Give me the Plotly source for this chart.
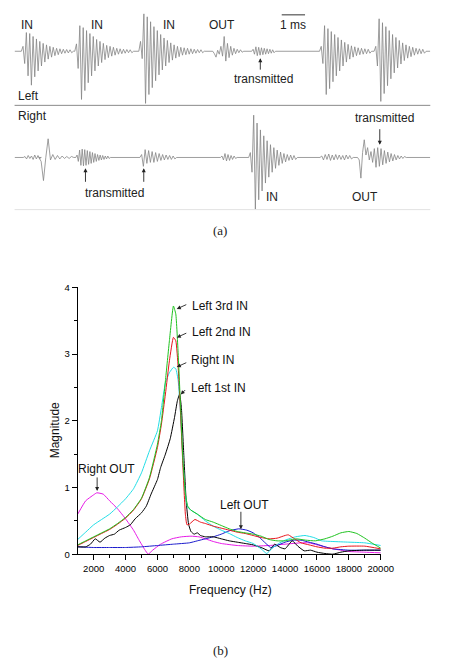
import plotly.graph_objects as go

W, H = 453, 672

# ================= panel (b): spectra (Frequency Hz, Magnitude) =================
freq_left3 = [1000, 1500, 2000, 2500, 3000, 3500, 4000, 4500, 5000, 5500, 6000, 6250, 6500, 6750, 7000, 7150, 7300, 7450, 7600, 7750, 7900, 8100, 8500, 9000, 9500, 10000, 10500, 11000, 11500, 12000, 12500, 13000, 13500, 14000, 14700, 15300, 15900, 16500, 17000, 17500, 18000, 18500, 19000, 19500, 20000]
mag_left3 = [0.14, 0.2, 0.26, 0.32, 0.38, 0.46, 0.55, 0.67, 0.84, 1.15, 1.65, 2.0, 2.6, 3.2, 3.72, 3.6, 3.0, 2.2, 1.4, 0.9, 0.72, 0.66, 0.6, 0.52, 0.48, 0.43, 0.38, 0.34, 0.32, 0.3, 0.27, 0.22, 0.2, 0.2, 0.23, 0.21, 0.2, 0.23, 0.27, 0.32, 0.34, 0.31, 0.24, 0.16, 0.09]

freq_left2 = [1000, 1500, 2000, 2500, 3000, 3500, 4000, 4500, 5000, 5500, 6000, 6250, 6500, 6750, 7000, 7150, 7300, 7450, 7600, 7750, 7850, 8000, 8350, 8700, 9000, 9500, 10000, 10500, 11000, 11500, 12000, 12500, 13000, 13500, 14000, 14200, 14600, 15000, 15500, 16000, 16500, 17000, 17500, 18000, 19000, 20000]
mag_left2 = [0.13, 0.19, 0.25, 0.31, 0.37, 0.45, 0.54, 0.66, 0.83, 1.13, 1.6, 1.95, 2.4, 2.9, 3.25, 3.2, 2.8, 2.1, 1.3, 0.6, 0.44, 0.45, 0.52, 0.48, 0.46, 0.42, 0.39, 0.36, 0.33, 0.31, 0.28, 0.25, 0.23, 0.24, 0.28, 0.29, 0.23, 0.17, 0.14, 0.11, 0.09, 0.09, 0.11, 0.12, 0.12, 0.08]

freq_right_in = [1000, 1500, 2000, 2500, 3000, 3500, 4000, 4500, 5000, 5500, 6000, 6250, 6500, 6750, 7000, 7150, 7300, 7450, 7600, 7750, 7900, 8100, 8500, 9000, 9500, 10000, 10500, 11000, 11500, 12000, 12500, 12850, 13200, 13600, 14000, 14650, 15250, 15800, 16300, 17000, 18000, 19000, 20000]
mag_right_in = [0.22, 0.33, 0.44, 0.52, 0.6, 0.71, 0.83, 0.98, 1.22, 1.55, 1.85, 2.2, 2.57, 2.72, 2.8, 2.78, 2.6, 2.1, 1.4, 0.9, 0.7, 0.66, 0.6, 0.5, 0.42, 0.36, 0.31, 0.25, 0.2, 0.16, 0.08, 0.01, 0.09, 0.16, 0.21, 0.26, 0.28, 0.25, 0.2, 0.19, 0.18, 0.17, 0.13]

freq_left1 = [1000, 1500, 1800, 2100, 2400, 2700, 3000, 3300, 3600, 4000, 4300, 4600, 5000, 5300, 5600, 6000, 6200, 6500, 6800, 7070, 7250, 7390, 7500, 7650, 7800, 7950, 8100, 8300, 8500, 8700, 9000, 9500, 10000, 10500, 11000, 11500, 12000, 12600, 13000, 13350, 13700, 14000, 14450, 14800, 15200, 15600, 16000, 16500, 17000, 17500, 18000, 19000, 20000]
mag_left1 = [0.11, 0.11, 0.15, 0.23, 0.18, 0.24, 0.28, 0.3, 0.36, 0.4, 0.44, 0.53, 0.62, 0.72, 0.9, 1.12, 1.3, 1.5, 1.73, 2.05, 2.3, 2.4, 2.2, 1.5, 0.8, 0.45, 0.34, 0.3, 0.32, 0.28, 0.26, 0.26, 0.23, 0.2, 0.18, 0.16, 0.14, 0.09, 0.05, 0.15, 0.1, 0.08, 0.2, 0.12, 0.05, 0.06, 0.03, 0.01, 0.0, 0.03, 0.05, 0.06, 0.06]

freq_left_out = [1000, 2000, 3000, 4000, 5000, 6000, 7000, 8000, 8500, 9000, 9500, 10000, 10500, 11100, 11600, 12000, 12400, 12800, 13100, 13500, 14000, 14500, 15000, 15500, 16000, 16500, 17000, 18000, 19000, 20000]
mag_left_out = [0.11, 0.1, 0.1, 0.1, 0.11, 0.13, 0.15, 0.17, 0.2, 0.23, 0.26, 0.3, 0.35, 0.38, 0.36, 0.32, 0.25, 0.16, 0.1, 0.13, 0.18, 0.21, 0.21, 0.18, 0.15, 0.11, 0.08, 0.06, 0.06, 0.06]

freq_right_out = [1000, 1500, 2000, 2200, 2600, 3000, 3500, 4000, 4500, 4850, 5200, 5420, 5700, 6200, 6900, 7500, 8100, 8600, 9000, 9500, 10000, 11000, 12000, 13000, 14000, 15000, 15500, 16000, 16500, 17000, 17500, 18000, 19000, 20000]
mag_right_out = [0.6, 0.8, 0.89, 0.92, 0.9, 0.8, 0.68, 0.53, 0.36, 0.21, 0.07, 0.0, 0.06, 0.15, 0.23, 0.26, 0.27, 0.26, 0.23, 0.19, 0.16, 0.13, 0.12, 0.13, 0.15, 0.17, 0.17, 0.14, 0.11, 0.08, 0.06, 0.04, 0.03, 0.02]

x_tick_vals = [2000, 4000, 6000, 8000, 10000, 12000, 14000, 16000, 18000, 20000]
x_tick_text = ["2000", "4000", "6000", "8000", "10000", "12000", "14000", "16000", "18000", "20000"]
y_tick_vals = [0, 1, 2, 3, 4]
y_tick_text = ["0", "1", "2", "3", "4"]

# ================= panel (a): waveforms (time ms, relative amplitude) =================
# each burst: onset (ms), half period (ms), successive extreme values
left_onsets = [0.29, 2.583, 5.33, 8.5, 10.17, 13.08, 15.42]
left_halfperiods = [0.072, 0.072, 0.072, 0.07, 0.06, 0.072, 0.072]
left_in1 = [0.1, -0.25, 0.38, -0.5, 0.36, -0.69, 0.3, -0.52, 0.25, -0.4, 0.2, -0.3, 0.16, -0.22, 0.13, -0.16, 0.1, -0.12, 0.08, -0.09, 0.06, -0.07, 0.05, -0.05, 0.04, -0.04, 0.035, -0.035, 0.03, -0.03]
left_in2 = [0.15, -0.35, 0.52, -0.98, 0.48, -0.8, 0.42, -0.64, 0.36, -0.5, 0.3, -0.4, 0.24, -0.3, 0.2, -0.23, 0.16, -0.17, 0.12, -0.13, 0.1, -0.1, 0.08, -0.08, 0.06, -0.06, 0.05, -0.05, 0.04, -0.04, 0.035, -0.03, 0.03, -0.03]
left_in3 = [0.2, -0.15, 0.76, -1.06, 0.7, -0.88, 0.6, -0.74, 0.5, -0.6, 0.42, -0.48, 0.34, -0.38, 0.27, -0.3, 0.22, -0.23, 0.17, -0.18, 0.13, -0.14, 0.1, -0.11, 0.08, -0.08, 0.07, -0.07, 0.06, -0.06, 0.05, -0.05, 0.04, -0.04, 0.035, -0.03, 0.03, -0.03]
left_out = [-0.05, -0.12, 0.02, -0.06, 0.1, -0.1, 0.3, -0.2, 0.16, -0.13, 0.1, -0.08, 0.06, -0.05, 0.04, -0.03, 0.03, -0.02]
left_transmitted = [0.04, -0.06, 0.09, -0.09, 0.08, -0.08, 0.07, -0.07, 0.06, -0.06, 0.05, -0.05, 0.04, -0.04, 0.03, -0.03]
left_in4 = [0.1, -0.25, 0.52, -0.88, 0.46, -0.76, 0.4, -0.62, 0.34, -0.5, 0.28, -0.4, 0.23, -0.3, 0.18, -0.22, 0.14, -0.16, 0.11, -0.12, 0.09, -0.09, 0.07, -0.07, 0.06, -0.06, 0.05, -0.05, 0.04, -0.04]
left_in5 = [0.1, -0.3, 0.66, -1.02, 0.58, -0.86, 0.5, -0.7, 0.42, -0.56, 0.34, -0.44, 0.28, -0.34, 0.22, -0.26, 0.17, -0.19, 0.13, -0.14, 0.1, -0.11, 0.08, -0.08, 0.06, -0.06, 0.05, -0.05, 0.04, -0.04]

right_onsets = [0.375, 1.04, 2.625, 5.375, 8.83, 10.04, 13.1, 14.71]
right_halfperiods = [0.07, 0.1, 0.055, 0.075, 0.065, 0.072, 0.075, 0.072]
right_noise1 = [0.02, -0.03, 0.04, -0.02, 0.03, -0.04, 0.05, -0.03, 0.04, -0.02]
right_spike = [-0.08, -0.47, 0.0, 0.38, -0.05, 0.06, -0.04, 0.04, -0.03, 0.03, -0.02, 0.02, -0.02, 0.02]
right_transmitted1 = [0.05, -0.08, 0.15, -0.16, 0.17, -0.17, 0.16, -0.16, 0.14, -0.14, 0.12, -0.12, 0.1, -0.1, 0.08, -0.08, 0.06, -0.06, 0.05, -0.05, 0.04, -0.04, 0.03, -0.03, 0.03, -0.02]
right_transmitted2 = [0.06, -0.18, 0.16, -0.12, 0.14, -0.1, 0.12, -0.1, 0.1, -0.08, 0.08, -0.06, 0.06, -0.05, 0.05, -0.04, 0.04, -0.04, 0.03, -0.03]
right_small = [0.03, -0.05, 0.08, -0.07, 0.06, -0.06, 0.04, -0.04, 0.03, -0.02]
right_in = [0.1, -0.3, 0.86, -1.06, 0.7, -0.86, 0.56, -0.68, 0.44, -0.52, 0.34, -0.4, 0.26, -0.3, 0.2, -0.22, 0.15, -0.16, 0.11, -0.12, 0.08, -0.09, 0.06, -0.06, 0.05, -0.05, 0.04, -0.04]
right_noise2 = [0.03, -0.05, 0.06, -0.04, 0.07, -0.06, 0.05, -0.05, 0.06, -0.04, 0.05, -0.04, 0.04, -0.05, 0.05, -0.03, 0.04, -0.03]
right_out = [-0.05, -0.42, 0.1, 0.36, 0.05, 0.2, -0.05, 0.12, -0.1, 0.18, -0.2, 0.2, -0.18, 0.18, -0.15, 0.14, -0.12, 0.11, -0.09, 0.08, -0.07, 0.06, -0.05, 0.04, -0.03, 0.03, -0.02, 0.02]

time_range_ms = [0.0, 17.83]


def build_wave(onsets, hps, bursts, t0, t1):
    xs, ys = [t0], [0.0]
    for onset, hp, peaks in zip(onsets, hps, bursts):
        xs.append(onset); ys.append(0.0)
        for i, p in enumerate(peaks):
            xs.append(onset + (i + 1) * hp); ys.append(p)
        xs.append(onset + (len(peaks) + 1) * hp); ys.append(0.0)
    xs.append(t1); ys.append(0.0)
    return xs, ys


lx, ly = build_wave(left_onsets, left_halfperiods,
                    [left_in1, left_in2, left_in3, left_out, left_transmitted, left_in4, left_in5],
                    *time_range_ms)
rx, ry = build_wave(right_onsets, right_halfperiods,
                    [right_noise1, right_spike, right_transmitted1, right_transmitted2, right_small,
                     right_in, right_noise2, right_out],
                    *time_range_ms)


def px(x):
    return x / W


def py(y):
    return 1 - y / H


FONT = "Liberation Sans, Arial, sans-serif"
SERIF = "Liberation Serif, Times New Roman, serif"

fig = go.Figure()

# waveforms
WAVE = "#858585"
fig.add_trace(go.Scatter(x=lx, y=ly, mode="lines", line=dict(color=WAVE, width=0.8),
                         xaxis="x2", yaxis="y2", hoverinfo="skip"))
fig.add_trace(go.Scatter(x=rx, y=ry, mode="lines", line=dict(color=WAVE, width=0.8),
                         xaxis="x3", yaxis="y3", hoverinfo="skip"))

# spectra
curves = [
    (freq_right_out, mag_right_out, "#e619e6", "Right OUT"),
    (freq_left_out, mag_left_out, "#1a1acc", "Left OUT"),
    (freq_left1, mag_left1, "#000000", "Left 1st IN"),
    (freq_right_in, mag_right_in, "#22dde6", "Right IN"),
    (freq_left2, mag_left2, "#e8141c", "Left 2nd IN"),
    (freq_left3, mag_left3, "#1fc21f", "Left 3rd IN"),
]
for fx, fy, col, name in curves:
    fig.add_trace(go.Scatter(x=fx, y=fy, mode="lines", name=name,
                             line=dict(color=col, width=1, shape="spline", smoothing=0.4),
                             xaxis="x", yaxis="y"))

annotations = []


def txt(s, x, y, size=12, xanchor="center", font=FONT, color="#222222"):
    annotations.append(dict(text=s, x=px(x), y=py(y), xref="paper", yref="paper",
                            showarrow=False, xanchor=xanchor, yanchor="middle",
                            font=dict(family=font, size=size, color=color)))


def arrow(hx, hy, tx, ty):
    annotations.append(dict(text="", x=px(hx), y=py(hy), xref="paper", yref="paper",
                            ax=tx - hx, ay=ty - hy, showarrow=True, arrowhead=2,
                            arrowsize=0.9, arrowwidth=0.9, arrowcolor="#222222"))


# ---- panel (a) texts ----
txt("IN", 28, 19)
txt("IN", 100, 19)
txt("IN", 174, 19)
txt("OUT", 229, 19)
txt("1 ms", 302, 19)
txt("transmitted", 271, 74)
arrow(268, 53, 268, 66)
txt("Left", 29, 91)

txt("Right", 33, 112)
txt("transmitted", 118, 190)
arrow(88, 165, 88, 180)
arrow(148, 165, 148, 180)
txt("IN", 280, 194)
txt("OUT", 376, 194)
txt("transmitted", 396, 114)
arrow(391, 141, 391, 124)

txt("(a)", 226, 228, size=13, font=SERIF)
txt("(b)", 227, 655, size=13, font=SERIF)

# ---- panel (b) labels ----
txt("Left 3rd IN", 196, 305, xanchor="left", color="#111111")
arrow(182, 308, 193, 303)
txt("Left 2nd IN", 196, 331, xanchor="left", color="#111111")
arrow(182, 337, 193, 332)
txt("Right IN", 195, 360, xanchor="left", color="#111111")
arrow(182, 367, 193, 362)
txt("Left 1st IN", 195, 388, xanchor="left", color="#111111")
arrow(186, 395, 192, 389)
txt("Right OUT", 110, 471, color="#111111")
arrow(100, 493, 100, 478)
txt("Left OUT", 252, 507, color="#111111")
arrow(248, 532, 248, 513)

# axis titles
txt("Frequency (Hz)", 237, 594, size=12, color="#111111")
annotations.append(dict(text="Magnitude", x=px(57), y=py(431), xref="paper", yref="paper",
                        showarrow=False, textangle=-90, xanchor="center", yanchor="middle",
                        font=dict(family=FONT, size=12, color="#111111")))

shapes = [
    dict(type="line", xref="paper", yref="paper", x0=px(15), x1=px(443), y0=py(101), y1=py(101),
         line=dict(color="#8a8a8a", width=1)),
    dict(type="line", xref="paper", yref="paper", x0=px(15), x1=px(443), y0=py(207), y1=py(207),
         line=dict(color="#e2e2e2", width=1)),
    dict(type="line", xref="x2", yref="paper", x0=(290 - 15) / 24, x1=(290 - 15) / 24 + 1.0,
         y0=py(9), y1=py(9), line=dict(color="#333333", width=1)),
]

axis_common = dict(showgrid=False, zeroline=False, showline=True, linecolor="black", linewidth=1,
                   ticks="outside", tickcolor="black", tickwidth=1, ticklen=5,
                   tickfont=dict(family=FONT, size=9.5, color="black"))

fig.update_layout(
    width=W, height=H, margin=dict(l=0, r=0, t=0, b=0),
    paper_bgcolor="white", plot_bgcolor="white", showlegend=False,
    xaxis=dict(domain=[px(80), px(392)], range=[1000, 20000], anchor="y",
               tickvals=x_tick_vals, ticktext=x_tick_text,
               minor=dict(tickvals=[3000, 5000, 7000, 9000, 11000, 13000, 15000, 17000, 19000],
                          ticks="outside", ticklen=3, tickcolor="black"),
               **axis_common),
    yaxis=dict(domain=[py(557.3), py(286)], range=[0, 4], anchor="x",
               tickvals=y_tick_vals, ticktext=y_tick_text,
               minor=dict(tickvals=[0.5, 1.5, 2.5, 3.5], ticks="outside", ticklen=3, tickcolor="black"),
               **axis_common),
    xaxis2=dict(domain=[px(15), px(443)], range=time_range_ms, anchor="y2", visible=False),
    yaxis2=dict(domain=[py(100), 1.0], range=[-1.08, 0.92], anchor="x2", visible=False),
    xaxis3=dict(domain=[px(15), px(443)], range=time_range_ms, anchor="y3", visible=False),
    yaxis3=dict(domain=[py(207), py(100)], range=[-1.06, 1.08], anchor="x3", visible=False),
    annotations=annotations,
    shapes=shapes,
)

fig.write_html("out.html", config={"displayModeBar": False},
               post_script="document.body.style.margin='0';")
